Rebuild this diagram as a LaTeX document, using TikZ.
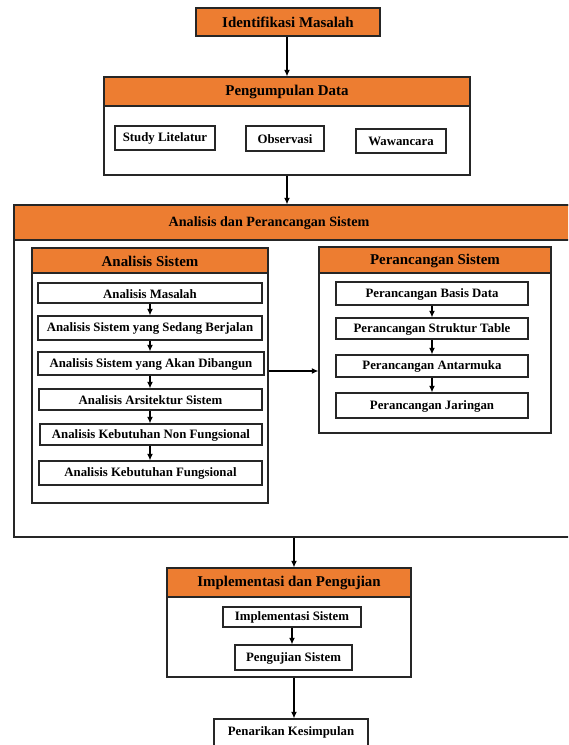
\documentclass[tikz,border=0pt]{standalone}
\usepackage{fontspec}
\setmainfont{Liberation Serif}
\usetikzlibrary{fit,arrows.meta}
\definecolor{hdr}{HTML}{ED7D31}
\tikzset{
  frame/.style={draw=black!85, line width=0.8pt, inner sep=0pt, fill=white},
  head/.style={draw=black!85, line width=0.8pt, inner sep=0pt, fill=hdr},
  item/.style={draw=black!85, line width=0.8pt, inner sep=0pt, fill=white},
  htxt/.style={inner sep=0pt, yshift=-0.5pt, font=\bfseries\fontsize{11.2}{13}\selectfont},
  itxt/.style={inner sep=0pt, yshift=-0.5pt, font=\bfseries\fontsize{9.6}{11}\selectfont},
  arr/.style={line width=1pt, -{Latex[length=5pt,width=4.5pt]}},
}
\begin{document}
\begin{tikzpicture}[x=0.75pt,y=-0.75pt]
\useasboundingbox (0,0) rectangle (568,745);
\clip (0,0) rectangle (568,745);
% Identifikasi
\node[head, fit={(196,8)(380,36)}] (idm) {};
\node[htxt] at (idm.center) {Identifikasi Masalah};
% Pengumpulan Data
\node[frame, fit={(104,77)(470,175)}] (pd) {};
\node[head, fit={(104,77)(470,106)}] (pdh) {};
\node[htxt] at (pdh.center) {Pengumpulan Data};
\node[item, fit={(115,126)(215,150)}] (sl) {};
\node[itxt] at (sl.center) {Study Litelatur};
\node[item, fit={(246,126)(324,151)}] (ob) {};
\node[itxt] at (ob.center) {Observasi};
\node[item, fit={(356,129)(446,153)}] (ww) {};
\node[itxt] at (ww.center) {Wawancara};
% Analisis dan Perancangan
\node[frame, fit={(14,205)(580,537)}] (ap) {};
\node[head, fit={(14,205)(580,240)}] (aph) {};
\node[htxt, font=\bfseries\fontsize{10.6}{12}\selectfont] at (269,222.5) {Analisis dan Perancangan Sistem};
% Analisis Sistem
\node[frame, fit={(32,248)(268,503)}] (as) {};
\node[head, fit={(32,248)(268,273)}] (ash) {};
\node[htxt] at (ash.center) {Analisis Sistem};
\node[item, fit={(38,283)(262,303)}] (a1) {};
\node[itxt] at (a1.center) {Analisis Masalah};
\node[item, fit={(38,316)(262,340)}] (a2) {};
\node[itxt] at (a2.center) {Analisis Sistem yang Sedang Berjalan};
\node[item, fit={(38,352)(264,375)}] (a3) {};
\node[itxt] at (a3.center) {Analisis Sistem yang Akan Dibangun};
\node[item, fit={(39,389)(262,410)}] (a4) {};
\node[itxt] at (a4.center) {Analisis Arsitektur Sistem};
\node[item, fit={(40,424)(262,445)}] (a5) {};
\node[itxt] at (a5.center) {Analisis Kebutuhan Non Fungsional};
\node[item, fit={(39,461)(262,485)}] (a6) {};
\node[itxt] at (a6.center) {Analisis Kebutuhan Fungsional};
% Perancangan Sistem
\node[frame, fit={(319,247)(551,433)}] (ps) {};
\node[head, fit={(319,247)(551,273)}] (psh) {};
\node[htxt] at (psh.center) {Perancangan Sistem};
\node[item, fit={(336,282)(528,305)}] (p1) {};
\node[itxt] at (p1.center) {Perancangan Basis Data};
\node[item, fit={(336,318)(528,339)}] (p2) {};
\node[itxt] at (p2.center) {Perancangan Struktur Table};
\node[item, fit={(336,355)(528,377)}] (p3) {};
\node[itxt] at (p3.center) {Perancangan Antarmuka};
\node[item, fit={(336,393)(528,418)}] (p4) {};
\node[itxt] at (p4.center) {Perancangan Jaringan};
% Implementasi
\node[frame, fit={(167,568)(411,677)}] (ip) {};
\node[head, fit={(167,568)(411,597)}] (iph) {};
\node[htxt] at (iph.center) {Implementasi dan Pengujian};
\node[item, fit={(223,607)(361,627)}] (i1) {};
\node[itxt] at (i1.center) {Implementasi Sistem};
\node[item, fit={(235,645)(352,670)}] (i2) {};
\node[itxt] at (i2.center) {Pengujian Sistem};
% Kesimpulan
\node[item, fit={(214,719)(368,752)}] (pk) {};
\node[itxt] at (291,732) {Penarikan Kesimpulan};
% arrows
\coordinate (c1) at (287,0);
\coordinate (c2) at (294,0);
\coordinate (cm) at (0,371);
\coordinate (ca) at (150,0);
\coordinate (cp) at (432,0);
\draw[arr] (idm.south -| c1) -- (pdh.north -| c1);
\draw[arr] (pd.south -| c1) -- (aph.north -| c1);
\draw[arr] (as.east |- cm) -- (ps.west |- cm);
\draw[arr] (ap.south -| c2) -- (iph.north -| c2);
\draw[arr] (ip.south -| c2) -- (pk.north -| c2);
\draw[arr] (a1.south -| ca) -- (a2.north -| ca);
\draw[arr] (a2.south -| ca) -- (a3.north -| ca);
\draw[arr] (a3.south -| ca) -- (a4.north -| ca);
\draw[arr] (a4.south -| ca) -- (a5.north -| ca);
\draw[arr] (a5.south -| ca) -- (a6.north -| ca);
\draw[arr] (p1.south -| cp) -- (p2.north -| cp);
\draw[arr] (p2.south -| cp) -- (p3.north -| cp);
\draw[arr] (p3.south -| cp) -- (p4.north -| cp);
\draw[arr] (i1.south) -- (i2.north -| i1.south);
\end{tikzpicture}
\end{document}
